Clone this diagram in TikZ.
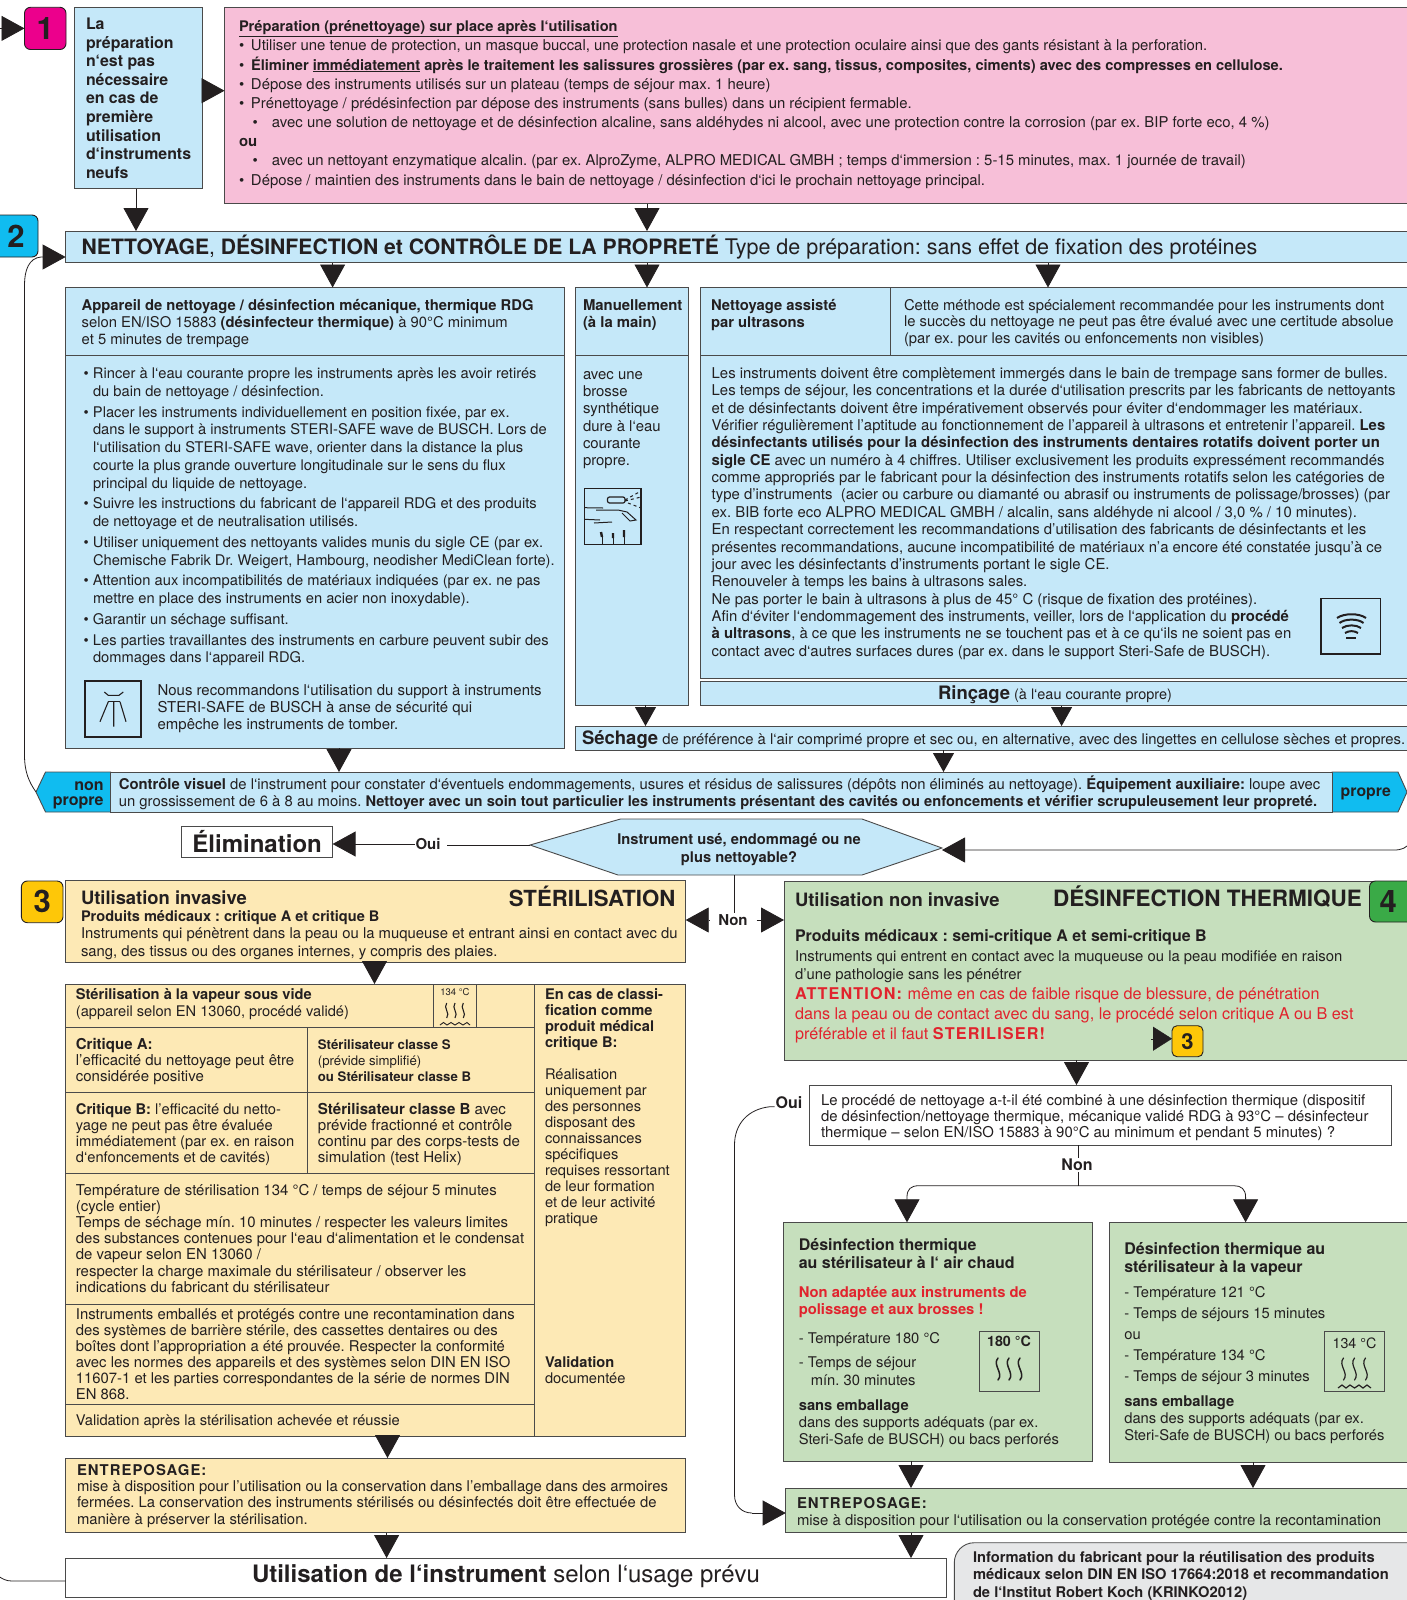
\documentclass[tikz,border=0pt]{standalone}
\usepackage{fontspec}
\setmainfont{TeX Gyre Heros}
\usetikzlibrary{arrows.meta}
\AtBeginDocument{\frenchspacing}
\definecolor{ink}{HTML}{231F20}
\definecolor{edge}{HTML}{4A4A4A}
\definecolor{lblue}{HTML}{C5E8F9}
\definecolor{cyanb}{HTML}{10BCF0}
\definecolor{pinkb}{HTML}{F7BFD8}
\definecolor{magb}{HTML}{EC008C}
\definecolor{creamb}{HTML}{FDE9B5}
\definecolor{greenb}{HTML}{C6DFBD}
\definecolor{greenk}{HTML}{3AAA47}
\definecolor{yellowk}{HTML}{FEC708}
\definecolor{redt}{HTML}{E1232D}
\definecolor{greyb}{HTML}{E6E7E8}
\newcommand\fs[2]{\fontsize{#1}{#2}\selectfont}
\newcommand\BX[7]{\node[boxn,minimum width={(#4-#2)*1pt},minimum height={(#5-#3)*1pt},#6] (#1) at (#2,#3) {#7};}
\newcommand\T[7]{\node[tb,font={\fs{#4}{#5}},#6] (#1) at (#2,#3) {\rule{0pt}{30pt}#7};}
\newcommand\BU{\makebox[9.5pt][l]{•}}
\newcommand\IN{\hspace*{9.5pt}}
\newcommand\PB{\makebox[12pt][l]{•}}
\newcommand\PS{\hspace*{13.5pt}\makebox[19.5pt][l]{•}}
\newcommand\LS[1]{{\addfontfeature{LetterSpace=7}#1}}
\tikzset{
 boxn/.style={draw=edge,line width=0.9pt,anchor=north west,inner sep=0pt,outer sep=0pt,text=ink},
 tb/.style={anchor=north west,inner sep=0pt,outer sep=0pt,align=left,yshift=30pt,text=ink},
 tri/.style={draw=ink,line width=0.8pt,-{Triangle[length=23pt,width=25pt,fill=ink]}},
 plainl/.style={draw=ink,line width=0.8pt},
 badge/.style={rounded corners=6pt,draw=ink,font=\bfseries\fs{31}{31}},
 icon/.style={draw=ink,line width=1pt,fill=none},
 wav/.style={draw=ink,line width=1.5pt,line cap=round},
 lab/.style={inner sep=1pt,outer sep=0pt,font=\bfseries\fs{15}{15},text=ink}
}
\begin{document}
\begin{tikzpicture}[x=1pt,y=-1pt]
\useasboundingbox (0,0) rectangle (1407,1600);
%% section 1
\BX{bdgA}{24.5}{7.3}{66}{49.5}{fill=magb,badge}{1}
\BX{prep}{74.5}{7.3}{202.7}{188.7}{fill=lblue}{}
\T{prept}{86}{29.5}{15.9}{18.6}{font=\bfseries\fs{15.9}{18.6}}{La\\préparation\\n‘est pas\\nécessaire\\en cas de\\première\\utilisation\\d‘instruments\\neufs}
\BX{pink}{224.5}{7.3}{1420}{203.5}{fill=pinkb}{}
\T{pinkt}{239}{31.8}{14.9}{19.15}{}{\textbf{\underline{\fs{14.6}{19.15}Préparation (prénettoyage) sur place après l‘utilisation}}\\
\PB Utiliser une tenue de protection, un masque buccal, une protection nasale et une protection oculaire ainsi que des gants résistant à la perforation.\\
\PB{\fs{14.65}{19.15}\textbf{Éliminer \underline{immédiatement} après le traitement les salissures grossières (par ex. sang, tissus, composites, ciments) avec des compresses en cellulose.}}\\
\PB Dépose des instruments utilisés sur un plateau (temps de séjour max. 1 heure)\\
\PB Prénettoyage / prédésinfection par dépose des instruments (sans bulles) dans un récipient fermable.\\
\PS avec une solution de nettoyage et de désinfection alcaline, sans aldéhydes ni alcool, avec une protection contre la corrosion (par ex. BIP forte eco, 4 \%)\\
\textbf{ou}\\
\PS avec un nettoyant enzymatique alcalin. (par ex. AlproZyme, ALPRO MEDICAL GMBH ; temps d‘immersion : 5-15 minutes, max. 1 journée de travail)\\
\PB Dépose / maintien des instruments dans le bain de nettoyage / désinfection d‘ici le prochain nettoyage principal.}
%% section 2 band
\BX{bdgB}{-6}{215}{38}{257}{fill=cyanb,badge}{2}
\BX{band}{65.6}{231}{1420}{262.5}{fill=lblue}{}
\T{bandt}{81.7}{254.5}{21.5}{24}{}{{\fs{21.15}{24}\textbf{NETTOYAGE}, \textbf{DÉSINFECTION et CONTRÔLE DE LA PROPRETÉ}} Type de préparation: sans effet de fixation des protéines}
%% machine
\BX{apph}{65.6}{287.5}{564}{355.7}{fill=lblue}{}
\BX{appb}{65.6}{355.7}{564}{748}{fill=lblue}{}
\T{appht}{81.7}{310}{14.8}{17.4}{}{\textbf{Appareil de nettoyage / désinfection mécanique, thermique RDG}\\selon EN/ISO 15883 \textbf{(désinfecteur thermique)} à 90°C minimum\\et 5 minutes de trempage}
\T{appbt}{83.5}{378.5}{14.7}{17.8}{}{\BU Rincer à l‘eau courante propre les instruments après les avoir retirés\\
\IN du bain de nettoyage / désinfection.\\[2.9pt]
\BU Placer les instruments individuellement en position fixée, par ex.\\
\IN dans le support à instruments STERI-SAFE wave de BUSCH. Lors de\\
\IN l‘utilisation du STERI-SAFE wave, orienter dans la distance la plus\\
\IN courte la plus grande ouverture longitudinale sur le sens du flux\\
\IN principal du liquide de nettoyage.\\[2.9pt]
\BU Suivre les instructions du fabricant de l‘appareil RDG et des produits\\
\IN de nettoyage et de neutralisation utilisés.\\[2.9pt]
\BU Utiliser uniquement des nettoyants valides munis du sigle CE (par ex.\\
\IN Chemische Fabrik Dr. Weigert, Hambourg, neodisher MediClean forte).\\[2.9pt]
\BU Attention aux incompatibilités de matériaux indiquées (par ex. ne pas\\
\IN mettre en place des instruments en acier non inoxydable).\\[2.9pt]
\BU Garantir un séchage suffisant.\\[2.9pt]
\BU Les parties travaillantes des instruments en carbure peuvent subir des\\
\IN dommages dans l‘appareil RDG.}
\T{appr}{157.6}{695}{14.95}{17}{}{Nous recommandons l‘utilisation du support à instruments\\STERI-SAFE de BUSCH à anse de sécurité qui\\empêche les instruments de tomber.}
\draw[draw=ink,line width=1.8pt] (85,681) rectangle (141,736.7);
\draw[icon,line width=1.1pt] (104.3,692) -- (108.3,695.3) -- (119,695.3) -- (123.3,692);
\draw[icon,line width=1.1pt] (108.3,701.7) -- (120,701.7);
\draw[icon,line width=1.1pt] (100,721.7) -- (108.3,701.7) (120,701.7) -- (126,721.7) (113.7,701.7) -- (113.7,726.7);
%% manual
\BX{manh}{575.4}{287.5}{688.4}{355.7}{fill=lblue}{}
\BX{manb}{575.4}{355.7}{688.4}{705}{fill=lblue}{}
\T{manht}{583}{310}{14.9}{17.4}{font=\bfseries\fs{14.9}{17.4}}{Manuellement\\(à la main)}
\T{manbt}{583}{379.5}{14.9}{17.2}{}{avec une\\brosse\\synthétique\\dure à l‘eau\\courante\\propre.}
\draw[draw=ink,line width=1.1pt] (584.3,488.3) rectangle (641,544.3);
\draw[icon,line width=1.2pt,rounded corners=2pt] (607.5,497) rectangle (625,503);
\draw[icon,line width=1pt,dashed] (625,500) -- (641,491) (625,501) -- (641,497) (628,503) -- (641,508);
\draw[icon,line width=1pt] (584.3,507.7) -- (603,508) (596,510) -- (618,510) -- (627,512) -- (636,520) -- (630,521) -- (622,513);
\draw[icon,line width=1pt] (584.3,519.3) -- (600,520) (594,523) -- (612,522);
\draw[ink,line width=2.4pt] (601,532) -- (602,537) (613,533) -- (613,538) (624,530) -- (624,537);
\draw[ink,line width=1pt] (602,537) -- (602,544) (613,538) -- (613,544) (624,537) -- (624,544);
%% ultrasons
\BX{ulth}{700}{287.5}{890}{355.7}{fill=lblue}{}
\BX{ultc}{890}{287.5}{1420}{355.7}{fill=lblue}{}
\BX{ultb}{700}{355.7}{1420}{678}{fill=lblue}{}
\T{ultht}{711}{310}{14.8}{17.4}{font=\bfseries\fs{14.8}{17.4}}{Nettoyage assisté\\par ultrasons}
\T{ultct}{904}{310}{14.8}{16.75}{}{Cette méthode est spécialement recommandée pour les instruments dont\\le succès du nettoyage ne peut pas être évalué avec une certitude absolue\\(par ex. pour les cavités ou enfoncements non visibles)}
\T{ultbt}{711.7}{378.5}{14.9}{17.35}{}{Les instruments doivent être complètement immergés dans le bain de trempage sans former de bulles.\\
Les temps de séjour, les concentrations et la durée d‘utilisation prescrits par les fabricants de nettoyants\\
et de désinfectants doivent être impérativement observés pour éviter d‘endommager les matériaux.\\
Vérifier régulièrement l’aptitude au fonctionnement de l’appareil à ultrasons et entretenir l’appareil. \textbf{Les}\\
\textbf{désinfectants utilisés pour la désinfection des instruments dentaires rotatifs doivent porter un}\\
\textbf{sigle CE} avec un numéro à 4 chiffres. Utiliser exclusivement les produits expressément recommandés\\
comme appropriés par le fabricant pour la désinfection des instruments rotatifs selon les catégories de\\
type d’instruments\ \ (acier ou carbure ou diamanté ou abrasif ou instruments de polissage/brosses) (par\\
ex. BIB forte eco ALPRO MEDICAL GMBH / alcalin, sans aldéhyde ni alcool / 3,0 \% / 10 minutes).\\
En respectant correctement les recommandations d’utilisation des fabricants de désinfectants et les\\
présentes recommandations, aucune incompatibilité de matériaux n’a encore été constatée jusqu’à ce\\
jour avec les désinfectants d’instruments portant le sigle CE.\\
Renouveler à temps les bains à ultrasons sales.\\
Ne pas porter le bain à ultrasons à plus de 45° C (risque de fixation des protéines).\\
Afin d‘éviter l‘endommagement des instruments, veiller, lors de l‘application du \textbf{procédé}\\
\textbf{à ultrasons}, à ce que les instruments ne se touchent pas et à ce qu‘ils ne soient pas en\\
contact avec d‘autres surfaces dures (par ex. dans le support Steri-Safe de BUSCH).}
\draw[draw=ink,line width=1.1pt] (1321,598.7) rectangle (1380.7,654);
\draw[ink,line width=2pt] (1337,618) .. controls (1344,613) and (1359,613) .. (1366,618);
\draw[ink,line width=2pt] (1339.5,623) .. controls (1345,618.5) and (1358,618.5) .. (1363.5,623);
\draw[ink,line width=2pt] (1342,628) .. controls (1347,624.5) and (1356,624.5) .. (1361,628);
\draw[ink,line width=2pt] (1345,633) .. controls (1349,630.5) and (1354,630.5) .. (1358,633);
\draw[ink,line width=2pt] (1346,638) -- (1356,638);
%% rincage sechage
\BX{rin}{700}{681.7}{1420}{705.7}{fill=lblue}{}
\T{rint}{938}{699}{14.45}{17}{}{{\bfseries\fs{18.5}{20}Rinçage} (à l‘eau courante propre)}
\BX{sec}{575.4}{726}{1420}{750}{fill=lblue}{}
\T{sect}{582}{744}{14.85}{17}{}{{\bfseries\fs{18.5}{20}Séchage} de préférence à l‘air comprimé propre et sec ou, en alternative, avec des lingettes en cellulose sèches et propres.}
%% controle
\coordinate (tipL) at (36,792);
\coordinate (tipR) at (1407,792);
\fill[cyanb,draw=edge,line width=0.9pt] (tipL) -- (45.5,772) -- (110.7,772) -- (110.7,812) -- (45.5,812) -- cycle;
\fill[cyanb,draw=edge,line width=0.9pt] (1332,772) -- (1398,772) -- (tipR) -- (1398,812) -- (1332,812) -- cycle;
\BX{ctrl}{110.7}{772}{1332}{812}{fill=lblue}{}
\T{nonp}{103.6}{790}{16}{15}{anchor=north east,align=right,font=\bfseries\fs{16}{15}}{non\\propre}
\T{prop}{1340.7}{796}{15.8}{15}{font=\bfseries\fs{15.8}{15}}{propre}
\T{ctrlt}{118.8}{789.5}{14.85}{17}{}{\textbf{Contrôle visuel} de l‘instrument pour constater d‘éventuels endommagements, usures et résidus de salissures (dépôts non éliminés au nettoyage). \textbf{Équipement auxiliaire:} loupe avec\\un grossissement de 6 à 8 au moins. {\fs{14.66}{17}\textbf{Nettoyer avec un soin tout particulier les instruments présentant des cavités ou enfoncements et vérifier scrupuleusement leur propreté.}}}
%% decision
\coordinate (hexW) at (530,845);
\coordinate (hexE) at (942,848);
\coordinate (hexS) at (734.7,875);
\draw[edge,line width=0.9pt,fill=lblue] (hexW) -- (620.5,819) -- (862,819) -- (hexE) -- (862,875) -- (618,875) -- cycle;
\T{hext}{739}{844.5}{14.7}{18}{anchor=north,align=center,font=\bfseries\fs{14.7}{18}}{Instrument usé, endommagé ou ne\\plus nettoyable?}
\BX{elim}{181.7}{826.7}{332.6}{857}{fill=white,font=\bfseries\fs{24}{24}}{Élimination}
\node[lab] (ouiA) at (428,844) {Oui};
\draw[plainl,shorten >=5pt] (hexW) -- (ouiA.east |- hexW);
\draw[tri] (ouiA.west) -- (elim.east |- ouiA);
\draw[tri] (1411,842) .. controls (1406,848) and (1402,850) .. (1394,850) -- (hexE |- 0,850);
\draw[tri] (tipL) .. controls (29,782) and (24.5,772) .. (24.5,755) -- (24.5,285) .. controls (24.5,270) and (29,258) .. (41,257) -- (band.west |- 0,257);
%% section 3
\BX{bdgC}{21.4}{881}{63}{922.7}{fill=yellowk,badge}{3}
\BX{steri}{65.6}{880.7}{685.7}{962.3}{fill=creamb}{}
\T{sterT}{81}{904}{18.4}{20}{font=\bfseries\fs{18.4}{20}}{Utilisation invasive}
\T{sterU}{675.4}{906.7}{22.2}{24}{anchor=north east,align=right,font=\bfseries\fs{22.2}{24}}{STÉRILISATION}
\T{sterV}{81}{921.5}{14.85}{17.4}{}{{\fs{14.55}{17.4}\textbf{Produits médicaux : critique A et critique B}}\\Instruments qui pénètrent dans la peau ou la muqueuse et entrant ainsi en contact avec du\\sang, des tissus ou des organes internes, y compris des plaies.}
\BX{cA}{65.6}{984}{534.4}{1027}{fill=creamb}{}
\BX{cB}{65.6}{1027}{307.6}{1092}{fill=creamb}{}
\BX{cC}{307.6}{1027}{534.4}{1092}{fill=creamb}{}
\BX{cD}{65.6}{1092}{307.6}{1173}{fill=creamb}{}
\BX{cE}{307.6}{1092}{534.4}{1173}{fill=creamb}{}
\BX{cF}{65.6}{1173}{534.4}{1304.5}{fill=creamb}{}
\BX{cG}{65.6}{1304.5}{534.4}{1404}{fill=creamb}{}
\BX{cH}{65.6}{1404}{534.4}{1436}{fill=creamb}{}
\BX{cR}{534.4}{984}{685.7}{1436}{fill=creamb}{}
\T{cAt}{75.9}{999.5}{14.65}{17}{}{\textbf{Stérilisation à la vapeur sous vide}\\(appareil selon EN 13060, procédé validé)}
\draw[draw=edge,line width=0.9pt] (433.3,984) rectangle (476.7,1027);
\T{cAi}{455}{995}{9.5}{10}{anchor=north,align=center}{134 °C}
\foreach \wx in {446.7,455,463.3}{\draw[icon,line width=1.1pt] (\wx,1003) .. controls +(-4,5) and +(4,-5) .. (\wx,1018);}
\draw[icon,line width=0.9pt] (440,1025) -- (443.5,1022.5) -- (447,1025) -- (451,1022.5) -- (455,1025) -- (459,1022.5) -- (463,1025) -- (467,1022.5) -- (470,1025);
\T{cBt}{75.9}{1049.5}{15}{16.1}{}{\textbf{Critique A:}\\l’efficacité du nettoyage peut être\\considérée positive}
\T{cCt}{317.9}{1049}{13.2}{16.1}{}{\textbf{Stérilisateur classe S}\\(prévide simplifié)\\\textbf{ou Stérilisateur classe B}}
\T{cDt}{75.9}{1114}{14.7}{16.05}{}{\textbf{Critique B:} l’efficacité du netto-\\yage ne peut pas être évaluée\\immédiatement (par ex. en raison\\d‘enfoncements et de cavités)}
\T{cEt}{317.9}{1114}{15.1}{16.05}{}{\textbf{Stérilisateur classe B} avec\\prévide fractionné et contrôle\\continu par des corps-tests de\\simulation (test Helix)}
\T{cFt}{75.9}{1195.5}{14.95}{16.1}{}{Température de stérilisation 134 °C / temps de séjour 5 minutes\\(cycle entier)\\Temps de séchage mín. 10 minutes / respecter les valeurs limites\\des substances contenues pour l‘eau d‘alimentation et le condensat\\de vapeur selon EN 13060 /\\respecter la charge maximale du stérilisateur / observer les\\indications du fabricant du stérilisateur}
\T{cGt}{75.9}{1319}{14.85}{16.1}{}{Instruments emballés et protégés contre une recontamination dans\\des systèmes de barrière stérile, des cassettes dentaires ou des\\boîtes dont l’appropriation a été prouvée. Respecter la conformité\\avec les normes des appareils et des systèmes selon DIN EN ISO\\11607-1 et les parties correspondantes de la série de normes DIN\\EN 868.}
\T{cHt}{75.9}{1425.5}{14.7}{16.1}{}{Validation après la stérilisation achevée et réussie}
\T{cRa}{545}{999.5}{14.65}{16.05}{font=\bfseries\fs{14.65}{16.05}}{En cas de classi-\\fication comme\\produit médical\\critique B:}
\T{cRb}{545}{1079.7}{14.65}{16}{}{Réalisation\\uniquement par\\des personnes\\disposant des\\connaissances\\spécifiques\\requises ressortant\\de leur formation\\et de leur activité\\pratique}
\T{cRc}{545}{1367}{14.65}{16}{}{\textbf{Validation}\\documentée}
\BX{entA}{65.6}{1458}{685.7}{1532.5}{fill=creamb}{}
\T{entAt}{77}{1475.5}{14.85}{16.2}{}{\textbf{\LS{ENTREPOSAGE:}}\\mise à disposition pour l’utilisation ou la conservation dans l’emballage dans des armoires\\fermées. La conservation des instruments stérilisés ou désinfectés doit être effectuée de\\manière à préserver la stérilisation.}
\BX{util}{65.6}{1558}{946}{1597}{fill=white}{}
\T{utilt}{252}{1582}{24}{26}{}{\textbf{Utilisation de l‘instrument} selon l‘usage prévu}
\draw[plainl] (util.west |- 0,1581) -- (12,1581) .. controls (6,1581) and (3,1579) .. (-2,1576);
%% section 4
\BX{nonI}{784}{881}{1420}{1060}{fill=greenb}{}
\BX{bdgD}{1369.5}{881}{1420}{922}{fill=greenk,badge}{\hspace*{-13pt}4}
\T{nonA}{795}{906}{18.4}{20}{font=\bfseries\fs{18.4}{20}}{Utilisation non invasive}
\T{nonB}{1053}{906.7}{22.5}{24}{font=\bfseries\fs{22.5}{24}}{DÉSINFECTION THERMIQUE}
\T{nonC}{795}{941}{16}{18}{font=\bfseries\fs{16}{18}}{Produits médicaux : semi-critique A et semi-critique B}
\T{nonD}{795}{961}{14.85}{18}{}{Instruments qui entrent en contact avec la muqueuse ou la peau modifiée en raison\\d’une pathologie sans les pénétrer}
\T{nonE}{795}{999}{16.2}{20.4}{text=redt}{\textbf{\LS{ATTENTION:}} même en cas de faible risque de blessure, de pénétration\\dans la peau ou de contact avec du sang, le procédé selon critique A ou B est\\préférable et il faut \textbf{\LS{STERILISER!}}}
\BX{bdgE}{1172}{1025.7}{1203}{1056.7}{fill=yellowk,rounded corners=5pt,draw=ink,font=\bfseries\fs{22}{22}}{3}
\coordinate (smallA) at (1151,1038.7);
\draw[draw=ink,-{Triangle[length=19pt,width=24pt,fill=ink]}] (smallA) -- (bdgE.west |- smallA);
\BX{qbox}{809.4}{1085}{1391}{1145}{fill=white}{}
\T{qt}{821}{1105}{14.9}{16}{}{Le procédé de nettoyage a-t-il été combiné à une désinfection thermique (dispositif\\de désinfection/nettoyage thermique, mécanique validé RDG à 93°C – désinfecteur\\thermique – selon EN/ISO 15883 à 90°C au minimum et pendant 5 minutes) ?}
\node[lab,font=\bfseries\fs{16}{16}] (ouiB) at (789,1103) {Oui};
\node[lab,font=\bfseries\fs{16}{16}] (nonQ) at (1077,1165) {Non};
\coordinate (bj) at (1078,1185.7);
\draw[plainl] (qbox.south -| bj) -- (nonQ.north -| bj) (nonQ.south -| bj) -- (bj);
\BX{gL}{783.5}{1222.3}{1092.8}{1461}{fill=greenb}{}
\BX{gR}{1109}{1222.3}{1420}{1462.3}{fill=greenb}{}
\draw[tri] (bj) -- (919,1185.7) .. controls (911,1185.7) and (907,1189) .. (907,1197) -- (gL.north -| 907,0);
\draw[tri] (bj) -- (1234,1185.7) .. controls (1241,1185.7) and (1245.6,1189) .. (1245.6,1197) -- (gL.north -| 1245.6,0);
\T{gLa}{798.8}{1250}{16}{18}{font=\bfseries\fs{16}{18}}{Désinfection thermique\\au stérilisateur à l‘ air chaud}
\T{gLb}{798.8}{1297}{14.76}{17}{text=redt,font=\bfseries\fs{14.76}{17}}{Non adaptée aux instruments de\\polissage et aux brosses !}
\T{gLc}{798.8}{1343}{14.75}{17}{}{- Température 180 °C}
\T{gLd}{798.8}{1367}{14.75}{18}{}{- Temps de séjour\\\hspace*{12pt}mín. 30 minutes}
\T{gLe}{798.8}{1410}{14.75}{17}{}{\textbf{sans emballage}\\dans des supports adéquats (par ex.\\Steri-Safe de BUSCH) ou bacs perforés}
\draw[draw=edge,line width=0.9pt] (979,1331) rectangle (1039,1391);
\T{gLi}{1009}{1346}{14.3}{15}{anchor=north,align=center,font=\bfseries\fs{14.3}{15}}{180 °C}
\foreach \wx in {998,1009,1020}{\draw[wav] (\wx,1358) .. controls +(-6,7) and +(6,-7) .. (\wx,1380);}
\T{gRa}{1124.3}{1254.5}{16}{18}{font=\bfseries\fs{16}{18}}{Désinfection thermique au\\stérilisateur à la vapeur}
\T{gRb}{1124.3}{1297}{14.75}{21}{}{- Température 121 °C\\- Temps de séjours 15 minutes\\ou\\- Température 134 °C\\- Temps de séjour 3 minutes}
\T{gRc}{1124.3}{1406.5}{14.75}{17.2}{}{\textbf{sans emballage}\\dans des supports adéquats (par ex.\\Steri-Safe de BUSCH) ou bacs perforés}
\draw[draw=edge,line width=0.9pt] (1324.5,1331) rectangle (1384.5,1391);
\T{gRi}{1354.5}{1348}{14.3}{15}{anchor=north,align=center}{134 °C}
\foreach \wx in {1343.5,1354.5,1365.5}{\draw[wav,line width=1.2pt] (\wx,1358) .. controls +(-6,7) and +(6,-7) .. (\wx,1380);}
\draw[ink,line width=1.2pt] (1338,1388) -- (1342,1385) -- (1346,1388) -- (1350,1385) -- (1354.5,1388) -- (1359,1385) -- (1363,1388) -- (1367,1385) -- (1371,1388);
\BX{entB}{785.7}{1488}{1420}{1532.7}{fill=greenb}{}
\T{entBt}{797}{1508}{14.9}{17}{}{\textbf{\LS{ENTREPOSAGE:}}\\mise à disposition pour l‘utilisation ou la conservation protégée contre la recontamination}
\BX{grey}{954.3}{1542.7}{1440}{1640}{fill=greyb,rounded corners=20pt}{}
\T{greyt}{973}{1562}{14.7}{17.5}{font=\bfseries\fs{14.7}{17.5}}{Information du fabricant pour la réutilisation des produits\\médicaux selon DIN EN ISO 17664:2018 et recommandation\\de l‘Institut Robert Koch (KRINKO2012)}
%% non branch
\node[lab,minimum width=47pt] (nonD2) at (733,920) {Non};
\draw[plainl] (hexS) -- (hexS |- nonD2.north);
\draw[tri] (nonD2.west) -- (steri.east |- nonD2);
\draw[tri] (nonD2.east) -- (nonI.west |- nonD2);
\draw[plainl] (ouiB.west |- 0,1106.7) -- (770,1106.7) .. controls (748,1109) and (734.5,1124) .. (734.5,1145) -- (734.5,1495) .. controls (734.5,1506) and (742,1513) .. (752,1513);
\draw[tri] (752,1513) -- (entB.west |- 0,1513);
%% vertical flow
\draw[tri] (bdgA.west -| -1,0) -- (bdgA.west);
\draw[tri] (prep.east |- 0,90.7) -- (pink.west |- 0,90.7);
\draw[tri] (prep.south -| 136,0) -- (band.north -| 136,0);
\draw[tri] (pink.south -| 647,0) -- (band.north -| 647,0);
\draw[tri] (band.south -| 332.6,0) -- (apph.north -| 332.6,0);
\draw[tri] (band.south -| 647,0) -- (manh.north -| 647,0);
\draw[tri] (band.south -| 1048,0) -- (ultc.north -| 1048,0);
\draw[tri,-{Triangle[length=19pt,width=21pt,fill=ink]}] (manb.south -| 645.5,0) -- (sec.north -| 645.5,0);
\draw[tri,-{Triangle[length=19pt,width=21pt,fill=ink]}] (rin.south -| 1061.6,0) -- (sec.north -| 1061.6,0);
\draw[tri,-{Triangle[length=19pt,width=21pt,fill=ink]}] (sec.south -| 943.5,0) -- (ctrl.north -| 943.5,0);
\draw[tri] (appb.south -| 339,0) -- (ctrl.north -| 339,0);
\draw[tri] (steri.south -| 374.5,0) -- (cA.north -| 374.5,0);
\draw[tri] (cH.south -| 387.5,0) -- (entA.north -| 387.5,0);
\draw[tri] (entA.south -| 386.6,0) -- (util.north -| 386.6,0);
\draw[tri] (nonI.south -| 1076.5,0) -- (qbox.north -| 1076.5,0);
\draw[tri] (gL.south -| 911,0) -- (entB.north -| 911,0);
\draw[tri] (gR.south -| 1253,0) -- (entB.north -| 1253,0);
\draw[tri] (entB.south -| 911,0) -- (util.north -| 911,0);
\end{tikzpicture}
\end{document}
